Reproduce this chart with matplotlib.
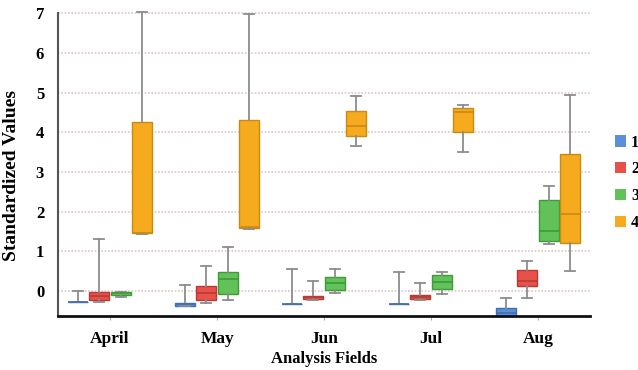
import matplotlib
matplotlib.use("Agg")
import matplotlib.pyplot as plt
from matplotlib.patches import Patch

plt.rcParams['font.family'] = ['Liberation Serif', 'DejaVu Serif']
plt.rcParams['font.weight'] = 'bold'

months = ["April", "May", "Jun", "Jul", "Aug"]
series = ["1", "2", "3", "4"]
colors = ["#5b8fd8", "#e8504a", "#62c25a", "#f6ab1e"]
edges = ["#3f6fb0", "#b83a35", "#3f9a3a", "#c98a12"]

# five-number summaries per series, one entry per month
whislo = {
    "1": [-0.28, -0.38, -0.33, -0.33, -0.65],
    "2": [-0.28, -0.30, -0.23, -0.23, -0.18],
    "3": [-0.16, -0.23, -0.05, -0.08, 1.18],
    "4": [1.43, 1.56, 3.65, 3.50, 0.51],
}
q1 = {
    "1": [-0.28, -0.38, -0.33, -0.33, -0.65],
    "2": [-0.23, -0.23, -0.20, -0.20, 0.13],
    "3": [-0.10, -0.08, 0.03, 0.04, 1.27],
    "4": [1.45, 1.59, 3.90, 4.00, 1.22],
}
med = {
    "1": [-0.28, -0.34, -0.33, -0.33, -0.55],
    "2": [-0.13, -0.05, -0.16, -0.15, 0.26],
    "3": [-0.06, 0.30, 0.20, 0.23, 1.52],
    "4": [1.45, 1.60, 4.16, 4.50, 1.93],
}
q3 = {
    "1": [-0.28, -0.30, -0.33, -0.33, -0.43],
    "2": [-0.03, 0.13, -0.13, -0.10, 0.53],
    "3": [-0.03, 0.48, 0.35, 0.40, 2.29],
    "4": [4.26, 4.31, 4.53, 4.60, 3.45],
}
whishi = {
    "1": [0.00, 0.15, 0.55, 0.47, -0.18],
    "2": [1.30, 0.63, 0.25, 0.20, 0.76],
    "3": [-0.03, 1.10, 0.55, 0.48, 2.65],
    "4": [7.03, 6.97, 4.91, 4.68, 4.93],
}

fig = plt.figure(figsize=(6.38, 3.70), dpi=100)
ax = fig.add_axes([0.091, 0.146, 0.834, 0.827])

step = 0.2
width = 0.187
for i, s in enumerate(series):
    stats = []
    for m in range(len(months)):
        stats.append(dict(whislo=whislo[s][m], q1=q1[s][m], med=med[s][m],
                          q3=q3[s][m], whishi=whishi[s][m], fliers=[]))
    pos = [m + (i - 1.5) * step for m in range(len(months))]
    ax.bxp(stats, positions=pos, widths=width, patch_artist=True,
           showfliers=False, manage_ticks=False,
           boxprops=dict(facecolor=colors[i], edgecolor=edges[i], linewidth=1.0),
           medianprops=dict(color=edges[i], linewidth=1.2),
           whiskerprops=dict(color="#8c8c8c", linewidth=1.3),
           capprops=dict(color="#8c8c8c", linewidth=1.3))

ax.set_xlim(-0.486, 4.486)
ax.set_ylim(-0.63, 7.08)
ax.set_yticks(range(0, 8))
ax.set_xticks(range(len(months)))
ax.set_xticklabels(months)

ax.set_axisbelow(True)
ax.yaxis.grid(True, color="#dcc9c9", linestyle=(0, (1, 1)), linewidth=1.2)
ax.xaxis.grid(False)

for side in ["top", "right"]:
    ax.spines[side].set_visible(False)
ax.spines["left"].set_color("#555555")
ax.spines["left"].set_linewidth(1.5)
ax.spines["left"].set_bounds(-0.63, 7.0)
ax.spines["bottom"].set_color("#111111")
ax.spines["bottom"].set_linewidth(2.0)

ax.tick_params(axis="y", length=0, pad=10, labelsize=12)
ax.tick_params(axis="x", length=3, color="#aaaaaa", pad=8, labelsize=12.5)

ax.set_xlabel("Analysis Fields", fontsize=12, fontweight="bold", labelpad=3)
ax.set_ylabel("Standardized Values", fontsize=14, fontweight="bold")
ax.yaxis.set_label_coords(-0.071, 0.46)

handles = [Patch(facecolor=c, edgecolor="none") for c in colors]
ax.legend(handles, series, loc="upper left", bbox_to_anchor=(1.02, 0.64),
          frameon=False, handlelength=0.7, handleheight=0.7,
          handletextpad=0.3, labelspacing=0.68, fontsize=11.5)

fig.savefig("out.png", dpi=100)
